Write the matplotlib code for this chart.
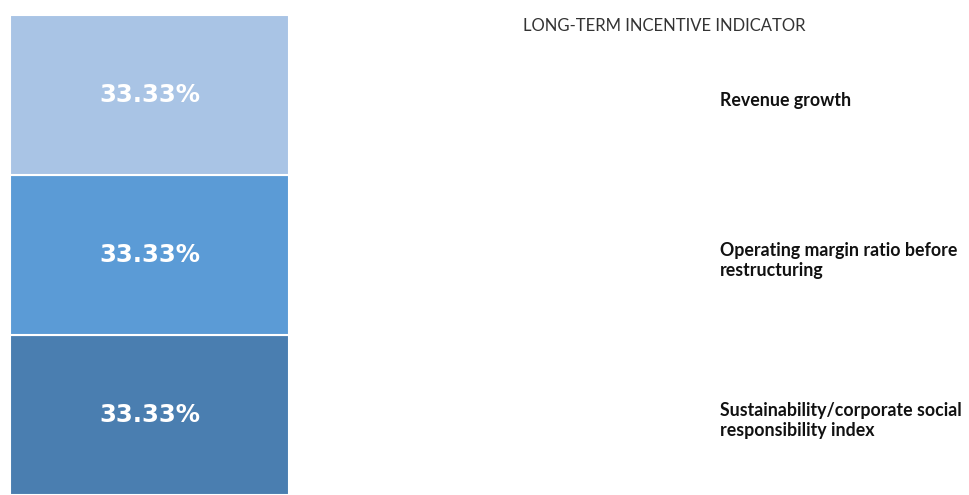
import matplotlib
matplotlib.use('Agg')
import matplotlib.pyplot as plt
import matplotlib.transforms as mtransforms

''' Data '''
indicators = ['Sustainability/corporate social\nresponsibility index',
              'Operating margin ratio before\nrestructuring',
              'Revenue growth']
weights = [33.33, 33.33, 33.33]
colors = ['#4A7EB0', '#5B9BD6', '#A9C4E5']
title = 'LONG-TERM INCENTIVE INDICATOR'

''' Plot '''
fig = plt.figure(figsize=(9.7, 4.95), dpi=100)
ax = fig.add_axes([10/970, 0, 279/970, 1 - 15/495])

# label offset below segment centre, in points
offset = mtransforms.ScaledTranslation(0, -4/72, fig.dpi_scale_trans)
trans = mtransforms.blended_transform_factory(fig.transFigure, ax.transData) + offset

bottom = 0
for name, w, c in zip(indicators, weights, colors):
    ax.bar(0, w, bottom=bottom, width=1, color=c, edgecolor='white', linewidth=1.5)
    ax.text(0, bottom + w/2, '{:.2f}%'.format(w), ha='center', va='center',
            color='white', fontsize=17.5, weight='bold', family='DejaVu Sans')
    # label on the right, aligned with the segment centre
    ax.text(720/970, bottom + w/2, name, transform=trans, ha='left', va='center',
            fontsize=12.8, weight='bold', family='Lato', color='#111111',
            linespacing=1.22, clip_on=False)
    bottom += w

ax.set_xlim(-0.5, 0.5)
ax.set_ylim(0, sum(weights))
ax.axis('off')

fig.text(523/970, 1 - 26/495, title, ha='left', va='center', fontsize=12,
         family='Lato', color='#333333')

plt.savefig('out.png', dpi=100)
